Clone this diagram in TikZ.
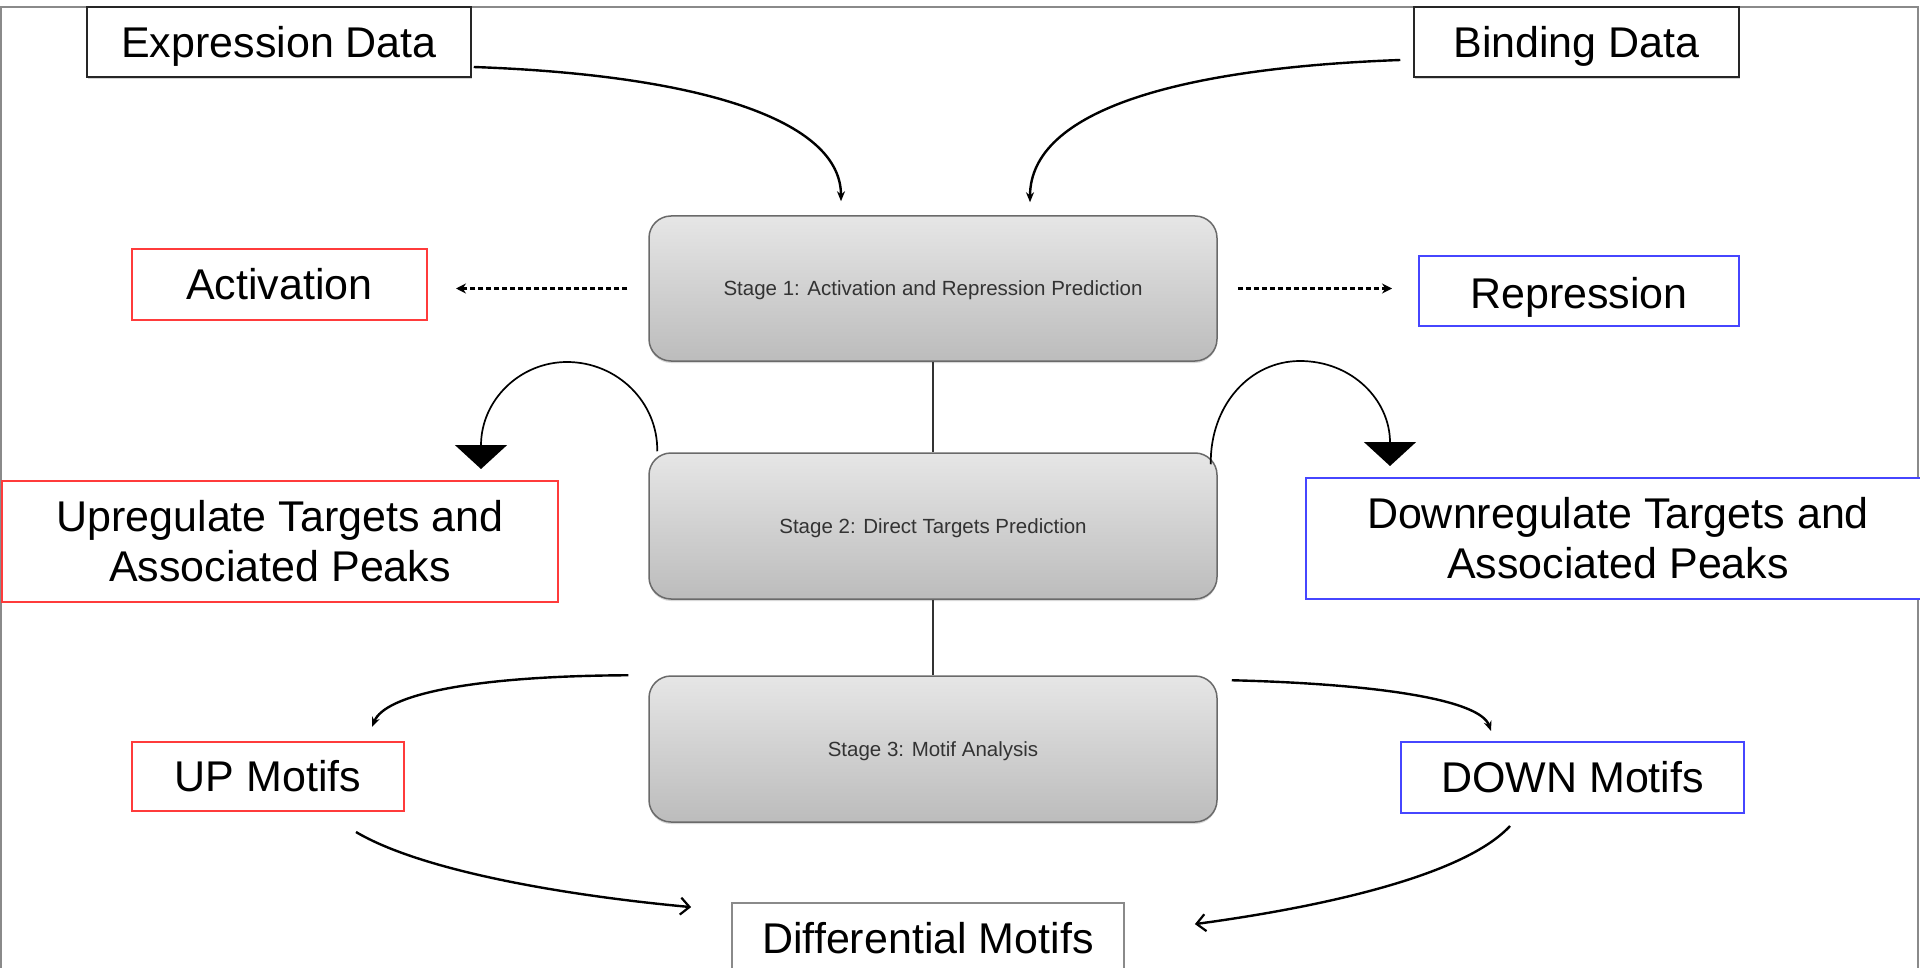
\documentclass[tikz,border=0pt]{standalone}
\usepackage{fontspec}
\setmainfont{Liberation Sans}
\usetikzlibrary{arrows.meta,calc,shadows}
\definecolor{stagetop}{HTML}{E6E6E6}
\definecolor{stagebot}{HTML}{BCBCBC}
\definecolor{stageline}{HTML}{6A6A6A}
\definecolor{redline}{HTML}{FF3B3B}
\definecolor{blueline}{HTML}{4646FF}
\definecolor{frameline}{HTML}{8A8A8A}
\definecolor{stagetext}{HTML}{333333}
\tikzset{
  bigfont/.style={font=\fontsize{43}{50}\selectfont},
  databox/.style={draw=black!85, line width=1.5pt, fill=white, bigfont, inner sep=0pt, text depth=0pt,
     drop shadow={shadow xshift=1pt, shadow yshift=-2pt, opacity=0.35}},
  redbox/.style={draw=redline, line width=2pt, fill=white, bigfont, inner sep=0pt, align=center},
  bluebox/.style={draw=blueline, line width=2pt, fill=white, bigfont, inner sep=0pt, align=center},
  greybox/.style={draw=frameline, line width=1.8pt, fill=white, bigfont, inner sep=0pt},
  stagebox/.style={draw=stageline, line width=1.5pt, rounded corners=22pt,
     top color=stagetop, bottom color=stagebot, minimum width=568pt,
     text=stagetext, font=\fontsize{20.5}{24}\selectfont, inner sep=0pt, text depth=0pt,
     drop shadow={shadow xshift=0pt, shadow yshift=-2pt, opacity=0.3}},
  flow/.style={line width=2.4pt, black, -{Stealth[length=10pt,width=8pt]}},
  barb/.style={line width=2.4pt, black, -{Straight Barb[length=9pt,width=17pt,line width=2.2pt]}},
  dasharrow/.style={line width=2.2pt, black, dash pattern=on 5pt off 3pt, -{Stealth[length=10pt,width=10pt]}},
  bigarc/.style={line width=1.7pt, black, -{Triangle[length=24pt,width=52pt]}},
  link/.style={line width=2.2pt, black!80},
}
\begin{document}
\begin{tikzpicture}[x=1pt,y=1pt]
\useasboundingbox (0,0) rectangle (1920,-968);
\draw[frameline, line width=1.5pt] (1,-7) rectangle (1918,-990);

% nodes
\node[databox, minimum width=384pt, minimum height=70pt] (expr) at (279,-42) {Expression Data};
\node[databox, minimum width=325pt, minimum height=70pt] (bind) at (1576.5,-42) {Binding Data};
\node[redbox, minimum width=295pt, minimum height=71pt] (act) at (279.5,-284.5) {Activation};
\node[bluebox, minimum width=320pt, minimum height=70pt, text height=35pt, text depth=0pt] (rep) at (1579,-291) {Repression};
\node[stagebox, minimum height=145pt] (s1) at (933,-288.5) {Stage 1: Activation and Repression Prediction};
\node[stagebox, minimum height=146pt] (s2) at (933,-526) {Stage 2: Direct Targets Prediction};
\node[stagebox, minimum height=146pt] (s3) at (933,-749) {Stage 3: Motif Analysis};
\node[redbox, minimum width=556pt, minimum height=121pt] (up) at (280,-541.5) {Upregulate Targets and\\Associated Peaks};
\node[bluebox, minimum width=624pt, minimum height=121pt] (down) at (1618,-538.5) {Downregulate Targets and\\Associated Peaks};
\node[redbox, minimum width=272pt, minimum height=69pt] (upm) at (268,-776.5) {UP Motifs};
\node[bluebox, minimum width=343pt, minimum height=71pt] (downm) at (1572.5,-777.5) {DOWN Motifs};
\node[greybox, minimum width=392pt, minimum height=70pt] (diff) at (928,-938) {Differential Motifs};

% connectors
\draw[flow] ([shift={(2,-25)}]expr.east) .. controls (700,-75) and (841,-120) .. ([shift={(-92,14)}]s1.north);
\draw[flow] ([shift={(-13,-18)}]bind.west) .. controls (1180,-68) and (1030,-110) .. ([shift={(97,13)}]s1.north);

\draw[dasharrow] ([xshift=-21pt]s1.west) -- ([xshift=28pt]act.east |- s1.west);
\draw[dasharrow] ([xshift=20pt]s1.east) -- ([xshift=-26pt]rep.west |- s1.east);

\draw[link] (s1.south) -- (s2.north);
\draw[link] (s2.south) -- (s3.north);

\draw[bigarc] ([shift={(9,1)}]s2.north west) .. controls (658,-402) and (617,-362) .. (567,-362)
   .. controls (520,-362) and (481,-400) .. ([shift={(201,11)}]up.north);
\draw[bigarc] ([shift={(-7,-12)}]s2.north east) .. controls (1210,-405) and (1250,-361) .. (1300,-361)
   .. controls (1352,-361) and (1390,-400) .. ([shift={(-228,11)}]down.north);

\draw[flow] ([shift={(-20,0)}]s3.north west) .. controls (470,-676) and (385,-695) .. ([shift={(104,14)}]upm.north);
\draw[flow] ([shift={(14,-5)}]s3.north east) .. controls (1380,-684) and (1480,-700) .. ([shift={(-81.5,10)}]downm.north);

\draw[barb] ([shift={(88,-20)}]upm.south) .. controls (420,-870) and (560,-895) .. ([shift={(-40,-5)}]diff.north west);
\draw[barb] ([shift={(-62.5,-12)}]downm.south) .. controls (1460,-880) and (1300,-910) .. ([shift={(70,-22)}]diff.north east);
\end{tikzpicture}
\end{document}
